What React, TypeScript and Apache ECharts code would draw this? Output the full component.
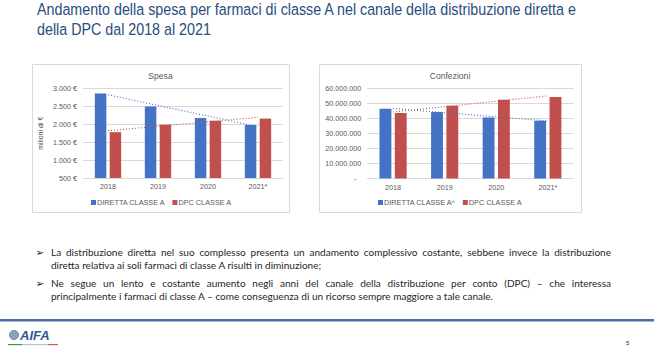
import React, { useEffect, useRef } from 'react';
import * as echarts from 'echarts';

const categories = ['2018', '2019', '2020', '2021*'];
const spesaDiretta = [2860, 2500, 2175, 1980];
const spesaDpc = [1780, 1990, 2100, 2160];
const confDiretta = [46500000, 44300000, 40700000, 38500000];
const confDpc = [43600000, 48500000, 52500000, 54300000];

const spesaAxis = { min: 500, max: 3000, interval: 500 };
const confAxis = { min: 0, max: 60000000, interval: 10000000 };

const leftLegend = ['DIRETTA CLASSE A', 'DPC CLASSE A'];
const rightLegend = ['DIRETTA CLASSE A^', 'DPC CLASSE A'];

const titleLines = [
  'Andamento della spesa per farmaci di classe A nel canale della distribuzione diretta e',
  'della DPC dal 2018 al 2021',
];

const bodyLines = [
  { text: 'La distribuzione diretta nel suo complesso presenta un andamento complessivo costante, sebbene invece la distribuzione', justify: true, bullet: true },
  { text: 'diretta relativa ai soli farmaci di classe A risulti in diminuzione;', justify: false, bullet: false },
  { text: 'Ne segue un lento e costante aumento negli anni del canale della distribuzione per conto (DPC) \u2013 che interessa', justify: true, bullet: true },
  { text: 'principalmente i farmaci di classe A \u2013 come conseguenza di un ricorso sempre maggiore a tale canale.', justify: false, bullet: false },
];

const BLUE = '#4472C4';
const RED = '#C0504D';
const GRID = '#D9D9D9';
const LABEL = '#595959';

function trend(values: number[]): number[] {
  const n = values.length;
  const xs = values.map((_, i) => i);
  const mx = xs.reduce((a, b) => a + b, 0) / n;
  const my = values.reduce((a, b) => a + b, 0) / n;
  let sxy = 0;
  let sxx = 0;
  for (let i = 0; i < n; i++) {
    sxy += (xs[i] - mx) * (values[i] - my);
    sxx += (xs[i] - mx) * (xs[i] - mx);
  }
  const slope = sxy / sxx;
  return xs.map((x) => my + slope * (x - mx));
}

function thousands(v: number): string {
  return String(Math.round(v)).replace(/\B(?=(\d{3})+(?!\d))/g, '.');
}

export default function App() {
  const ref = useRef<HTMLDivElement>(null);

  useEffect(() => {
    if (!ref.current) return;
    document.body.style.margin = '0';
    const chart = echarts.init(ref.current, null, { renderer: 'svg' });

    const canvas = document.createElement('canvas');
    const ctx = canvas.getContext('2d') as CanvasRenderingContext2D;
    const measure = (t: string, font: string) => {
      ctx.font = font;
      return ctx.measureText(t).width;
    };

    // Title
    const titleFont = "16.5px 'Liberation Sans'";
    const titleScale = 541 / measure(titleLines[0], titleFont);
    const graphics: any[] = [];
    titleLines.forEach((t, i) => {
      graphics.push({
        type: 'text',
        x: 37,
        y: 9 + i * 20.5,
        scaleX: titleScale,
        style: { text: t, font: titleFont, fill: '#2B4C7E', textVerticalAlign: 'middle' },
      });
    });

    // Chart boxes
    graphics.push({ type: 'rect', shape: { x: 32.5, y: 64.5, width: 257, height: 148 }, style: { fill: '#fff', stroke: GRID, lineWidth: 1 }, z: -10 });
    graphics.push({ type: 'rect', shape: { x: 319.5, y: 64.5, width: 262, height: 148 }, style: { fill: '#fff', stroke: GRID, lineWidth: 1 }, z: -10 });
    graphics.push({ type: 'text', x: 160.5, y: 76, style: { text: 'Spesa', font: "8.6px 'Liberation Sans'", fill: LABEL, textAlign: 'center', textVerticalAlign: 'middle' } });
    graphics.push({ type: 'text', x: 450, y: 76, style: { text: 'Confezioni', font: "8.6px 'Liberation Sans'", fill: LABEL, textAlign: 'center', textVerticalAlign: 'middle' } });

    // Body text
    const bodyFamily = 'Lato';
    const w2 = measure(bodyLines[1].text, `10px ${bodyFamily}`);
    const bodySize = (10 * 271) / w2;
    const bodyFont = `${bodySize.toFixed(2)}px ${bodyFamily}`;
    const lineYs = [252, 265, 283, 296];
    const textLeft = 51;
    const textRight = 611;
    bodyLines.forEach((ln, i) => {
      const y = lineYs[i];
      if (ln.bullet) {
        graphics.push({ type: 'text', x: 35.5, y, style: { text: '\u27A2', font: "10.5px 'DejaVu Sans'", fill: '#1a1a1a', textVerticalAlign: 'middle' } });
      }
      if (ln.justify) {
        const words = ln.text.split(' ');
        const widths = words.map((w) => measure(w, bodyFont));
        const total = widths.reduce((a, b) => a + b, 0);
        const gap = (textRight - textLeft - total) / (words.length - 1);
        let x = textLeft;
        words.forEach((w, k) => {
          graphics.push({ type: 'text', x, y, style: { text: w, font: bodyFont, fill: '#262626', textVerticalAlign: 'middle' } });
          x += widths[k] + gap;
        });
      } else {
        graphics.push({ type: 'text', x: textLeft, y, style: { text: ln.text, font: bodyFont, fill: '#262626', textVerticalAlign: 'middle' } });
      }
    });

    // Footer
    graphics.push({ type: 'rect', shape: { x: 0, y: 319, width: 654, height: 2.5 }, style: { fill: '#4F6EA6' } });
    graphics.push({ type: 'circle', shape: { cx: 14, cy: 335, r: 4.5 }, style: { fill: '#8FA3BD', stroke: '#5E7594', lineWidth: 0.8 } });
    graphics.push({ type: 'text', x: 20, y: 335.5, style: { text: 'AIFA', font: "italic bold 13px 'Liberation Sans'", fill: '#2F5597', textVerticalAlign: 'middle' } });
    graphics.push({ type: 'rect', shape: { x: 8, y: 344, width: 14, height: 1.2 }, style: { fill: '#3C9A4B' } });
    graphics.push({ type: 'rect', shape: { x: 22, y: 344, width: 26, height: 1.2 }, style: { fill: '#B8C2D0' } });
    graphics.push({ type: 'rect', shape: { x: 48, y: 344, width: 10, height: 1.2 }, style: { fill: '#D9534F' } });
    graphics.push({ type: 'text', x: 626, y: 343, style: { text: '5', font: "6px 'Liberation Sans'", fill: '#222', textVerticalAlign: 'middle' } });

    const axisLabel = { color: LABEL, fontSize: 7.2, fontFamily: 'Liberation Sans' };

    const barCommon = { type: 'bar', barWidth: '23%', barGap: '29%', silent: true };
    const trendCommon = { type: 'line', symbol: 'none', silent: true, z: 5 };

    chart.setOption({
      animation: false,
      backgroundColor: '#ffffff',
      grid: [
        { left: 83, right: 654 - 283, top: 88.5, bottom: 355 - 178 },
        { left: 367.3, right: 654 - 573.6, top: 88.5, bottom: 355 - 178.5 },
      ],
      xAxis: [0, 1].map((g) => ({
        type: 'category',
        gridIndex: g,
        data: categories,
        axisTick: { show: false },
        axisLine: { lineStyle: { color: GRID } },
        axisLabel: { ...axisLabel, margin: 5 },
      })),
      yAxis: [
        {
          type: 'value',
          gridIndex: 0,
          ...spesaAxis,
          name: 'milioni di \u20AC',
          nameLocation: 'middle',
          nameRotate: 90,
          nameGap: 39,
          nameTextStyle: { color: '#404040', fontSize: 7, fontFamily: 'Liberation Sans' },
          axisLine: { show: false },
          axisTick: { show: false },
          splitLine: { lineStyle: { color: GRID } },
          axisLabel: { ...axisLabel, margin: 6, formatter: (v: number) => thousands(v) + ' \u20AC' },
        },
        {
          type: 'value',
          gridIndex: 1,
          ...confAxis,
          axisLine: { show: false },
          axisTick: { show: false },
          splitLine: { lineStyle: { color: GRID } },
          axisLabel: {
            ...axisLabel,
            margin: 6,
            formatter: (v: number) => (v === 0 ? '{d|-}' : thousands(v)),
            rich: { d: { color: LABEL, fontSize: 7.2, padding: [0, 5, 0, 0] } },
          },
        },
      ],
      legend: [
        {
          data: leftLegend,
          left: 91,
          top: 199,
          itemWidth: 5,
          itemHeight: 5,
          itemGap: 7,
          icon: 'rect',
          padding: 0,
          selectedMode: false,
          textStyle: { color: LABEL, fontSize: 7.3, fontFamily: 'Liberation Sans', padding: [0, 0, 0, -4] },
        },
        {
          data: rightLegend,
          left: 378,
          top: 199,
          itemWidth: 5,
          itemHeight: 5,
          itemGap: 7,
          icon: 'rect',
          padding: 0,
          selectedMode: false,
          textStyle: { color: LABEL, fontSize: 7.3, fontFamily: 'Liberation Sans', padding: [0, 0, 0, -4] },
        },
      ],
      series: [
        { ...barCommon, name: leftLegend[0], xAxisIndex: 0, yAxisIndex: 0, data: spesaDiretta, itemStyle: { color: BLUE } },
        { ...barCommon, name: leftLegend[1], xAxisIndex: 0, yAxisIndex: 0, data: spesaDpc, itemStyle: { color: RED } },
        { ...barCommon, name: rightLegend[0], xAxisIndex: 1, yAxisIndex: 1, data: confDiretta, itemStyle: { color: BLUE } },
        { ...barCommon, name: rightLegend[1], xAxisIndex: 1, yAxisIndex: 1, data: confDpc, itemStyle: { color: RED } },
        { ...trendCommon, name: 'trend-spesa-diretta', xAxisIndex: 0, yAxisIndex: 0, data: trend(spesaDiretta), lineStyle: { color: BLUE, width: 1.1, type: [1, 2] } },
        { ...trendCommon, name: 'trend-spesa-dpc', xAxisIndex: 0, yAxisIndex: 0, data: trend(spesaDpc), lineStyle: { color: RED, width: 1.1, type: [1, 2] } },
        { ...trendCommon, name: 'trend-conf-diretta', xAxisIndex: 1, yAxisIndex: 1, data: trend(confDiretta), lineStyle: { color: BLUE, width: 1.1, type: [1, 2] } },
        { ...trendCommon, name: 'trend-conf-dpc', xAxisIndex: 1, yAxisIndex: 1, data: trend(confDpc), lineStyle: { color: RED, width: 1.1, type: [1, 2] } },
      ],
      graphic: graphics,
    });

    return () => chart.dispose();
  }, []);

  return (
    <div
      ref={ref}
      style={{ position: 'absolute', left: 0, top: 0, width: 654, height: 355, background: '#fff' }}
    />
  );
}
